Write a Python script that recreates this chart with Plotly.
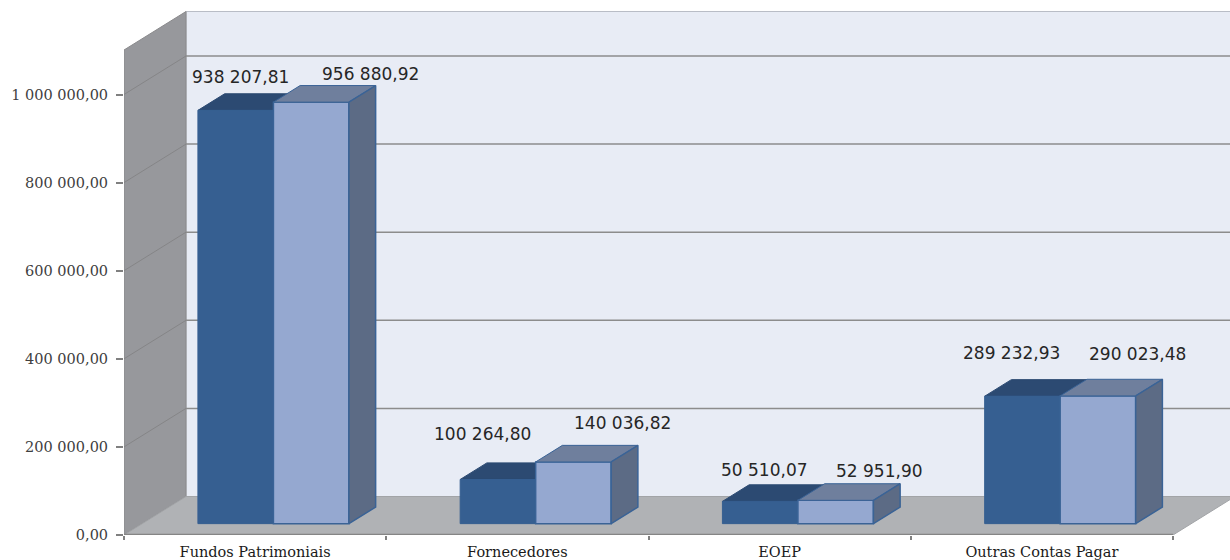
import plotly.graph_objects as go

categories = ["Fundos Patrimoniais", "Fornecedores", "EOEP", "Outras Contas Pagar"]
series_a = [938207.81, 100264.80, 50510.07, 289232.93]
series_b = [956880.92, 140036.82, 52951.90, 290023.48]
y_ticks = [0, 200000, 400000, 600000, 800000, 1000000]
y_labels = ["0,00", "200 000,00", "400 000,00", "600 000,00", "800 000,00", "1 000 000,00"]

label_dx_a = [5, -15, 4, -11]
label_dy_a = [33, 45, 31, 43]
label_dx_b = [59, 49, 44, 40]
label_dy_b = [28, 39, 29, 42]

# pixel scale of the axes
L, B = 124, 25
FIG_W, FIG_H = 1230, 560
CAT_PX = 262.25
VAL_PX = 440.5 / 1e6        # px per value unit
x_max = (FIG_W - L) / CAT_PX
y_max = (FIG_H - B) / VAL_PX
DX = 62 / CAT_PX            # full depth in x units
DY = 38.5 / VAL_PX          # full depth in y units
WALL_TOP = 1101000
BAR_W = 75.5 / CAT_PX
D0, D1 = 0.295, 0.726       # bar depth extent
CX = 0.5

C_WALL, C_FLOOR, C_SIDE = "#e8ecf5", "#b0b2b5", "#97989c"
C_GRID = "#8c8c8c"
C_A, C_A_TOP = "#365f91", "#2c4a72"
C_B, C_B_TOP, C_B_SIDE, C_B_LINE = "#95a8d0", "#6f7f9d", "#5c6b85", "#3a6396"


def path(points):
    return "M " + " L ".join(f"{x:.5f},{y:.2f}" for x, y in points) + " Z"


shapes = []
# back wall
shapes.append(dict(type="rect", xref="x", yref="y", layer="below", x0=DX, x1=x_max + 0.1, y0=DY, y1=WALL_TOP + DY,
                   fillcolor=C_WALL, line=dict(color="#b9bdc6", width=1)))
# left wall
shapes.append(dict(type="path", layer="below", xref="x", yref="y",
                   path=path([(0, 0), (DX, DY), (DX, WALL_TOP + DY), (0, WALL_TOP)]),
                   fillcolor=C_SIDE, line=dict(color="#8a8a8c", width=1)))
# floor
n = len(categories)
shapes.append(dict(type="path", layer="below", xref="x", yref="y",
                   path=path([(0, 0), (n, 0), (n + DX, DY), (DX, DY)]),
                   fillcolor=C_FLOOR, line=dict(color="#a2a4a7", width=1)))
# gridlines on both walls
for v in y_ticks[1:]:
    shapes.append(dict(type="line", layer="below", xref="x", yref="y", x0=DX, x1=x_max + 0.1, y0=v + DY, y1=v + DY,
                       line=dict(color=C_GRID, width=1.5)))
    shapes.append(dict(type="line", layer="below", xref="x", yref="y", x0=0, x1=DX, y0=v, y1=v + DY,
                       line=dict(color="#858587", width=1)))
# front floor edge
shapes.append(dict(type="line", layer="below", xref="x", yref="y", x0=0, x1=n, y0=0, y1=0,
                   line=dict(color="#858585", width=2.5)))
# tops of the first series sit under every trace
for i, v in enumerate(series_a):
    x0 = i + CX + DX * D0 - BAR_W
    x1 = x0 + BAR_W
    top = v + DY * D0
    shapes.append(dict(type="path", layer="below", xref="x", yref="y",
                       path=path([(x0, top), (x1, top),
                                  (x1 + DX * (D1 - D0), top + DY * (D1 - D0)),
                                  (x0 + DX * (D1 - D0), top + DY * (D1 - D0))]),
                       fillcolor=C_A_TOP, line=dict(color=C_A_TOP, width=1)))

fig = go.Figure()
x_a = [i + CX + DX * D0 - BAR_W / 2 for i in range(n)]
x_b = [i + CX + DX * D0 + BAR_W / 2 for i in range(n)]
base = DY * D0
fig.add_trace(go.Bar(x=x_a, y=series_a, base=base, width=BAR_W, marker=dict(color=C_A, line=dict(color=C_A, width=1)),
                     name="A", hoverinfo="skip"))
fig.add_trace(go.Bar(x=x_b, y=series_b, base=base, width=BAR_W,
                     marker=dict(color=C_B, line=dict(color=C_B_LINE, width=1.5)), name="B", hoverinfo="skip"))

for xc, v in zip(x_b, series_b):
    x0, x1 = xc - BAR_W / 2, xc + BAR_W / 2
    top = v + base
    ddx, ddy = DX * (D1 - D0), DY * (D1 - D0)
    fig.add_trace(go.Scatter(x=[x0, x1, x1 + ddx, x0 + ddx, x0], y=[top, top, top + ddy, top + ddy, top],
                             mode="lines", fill="toself", fillcolor=C_B_TOP, line=dict(color=C_B_LINE, width=1),
                             hoverinfo="skip"))
    fig.add_trace(go.Scatter(x=[x1, x1 + ddx, x1 + ddx, x1, x1], y=[top, top + ddy, base + ddy, base, top],
                             mode="lines", fill="toself", fillcolor=C_B_SIDE, line=dict(color=C_B_LINE, width=1.5),
                             hoverinfo="skip"))


def fmt(v):
    s = f"{v:,.2f}"
    return s.replace(",", " ").replace(".", ",")


annotations = []
for xs, vals, dxs, dys in ((x_a, series_a, label_dx_a, label_dy_a), (x_b, series_b, label_dx_b, label_dy_b)):
    for xc, v, dx, dy in zip(xs, vals, dxs, dys):
        annotations.append(dict(x=xc, y=v + base, xref="x", yref="y", text=fmt(v), showarrow=False,
                                xshift=dx, yshift=dy, xanchor="center", yanchor="middle",
                                font=dict(family="DejaVu Sans", size=17, color="#262626")))

fig.update_layout(
    width=FIG_W, height=FIG_H, autosize=False, showlegend=False, barmode="overlay",
    paper_bgcolor="white", plot_bgcolor="white",
    margin=dict(l=L, r=0, t=0, b=B, pad=0),
    shapes=shapes, annotations=annotations,
    xaxis=dict(range=[0, x_max], tickvals=[i + CX for i in range(n)], ticktext=categories,
               ticks="", showgrid=False, zeroline=False, showline=False,
               tickfont=dict(family="DejaVu Serif", size=14.5, color="#1a1a1a"),
               minor=dict(tickmode="array", tickvals=list(range(n + 1)), ticks="outside", ticklen=4, tickwidth=1.5,
                          tickcolor="#808080", showgrid=False),
               ticklabelstandoff=6),
    yaxis=dict(range=[0, y_max], tickvals=y_ticks, ticktext=y_labels, ticks="outside", ticklen=7, tickwidth=1.5,
               tickcolor="#808080", showgrid=False, zeroline=False, showline=False, ticklabelstandoff=5,
               tickfont=dict(family="DejaVu Serif", size=14.5, color="#404040")),
)

fig.write_html("out.html", config=dict(displayModeBar=False),
               post_script="document.body.style.margin='0';document.body.style.overflow='hidden';")
